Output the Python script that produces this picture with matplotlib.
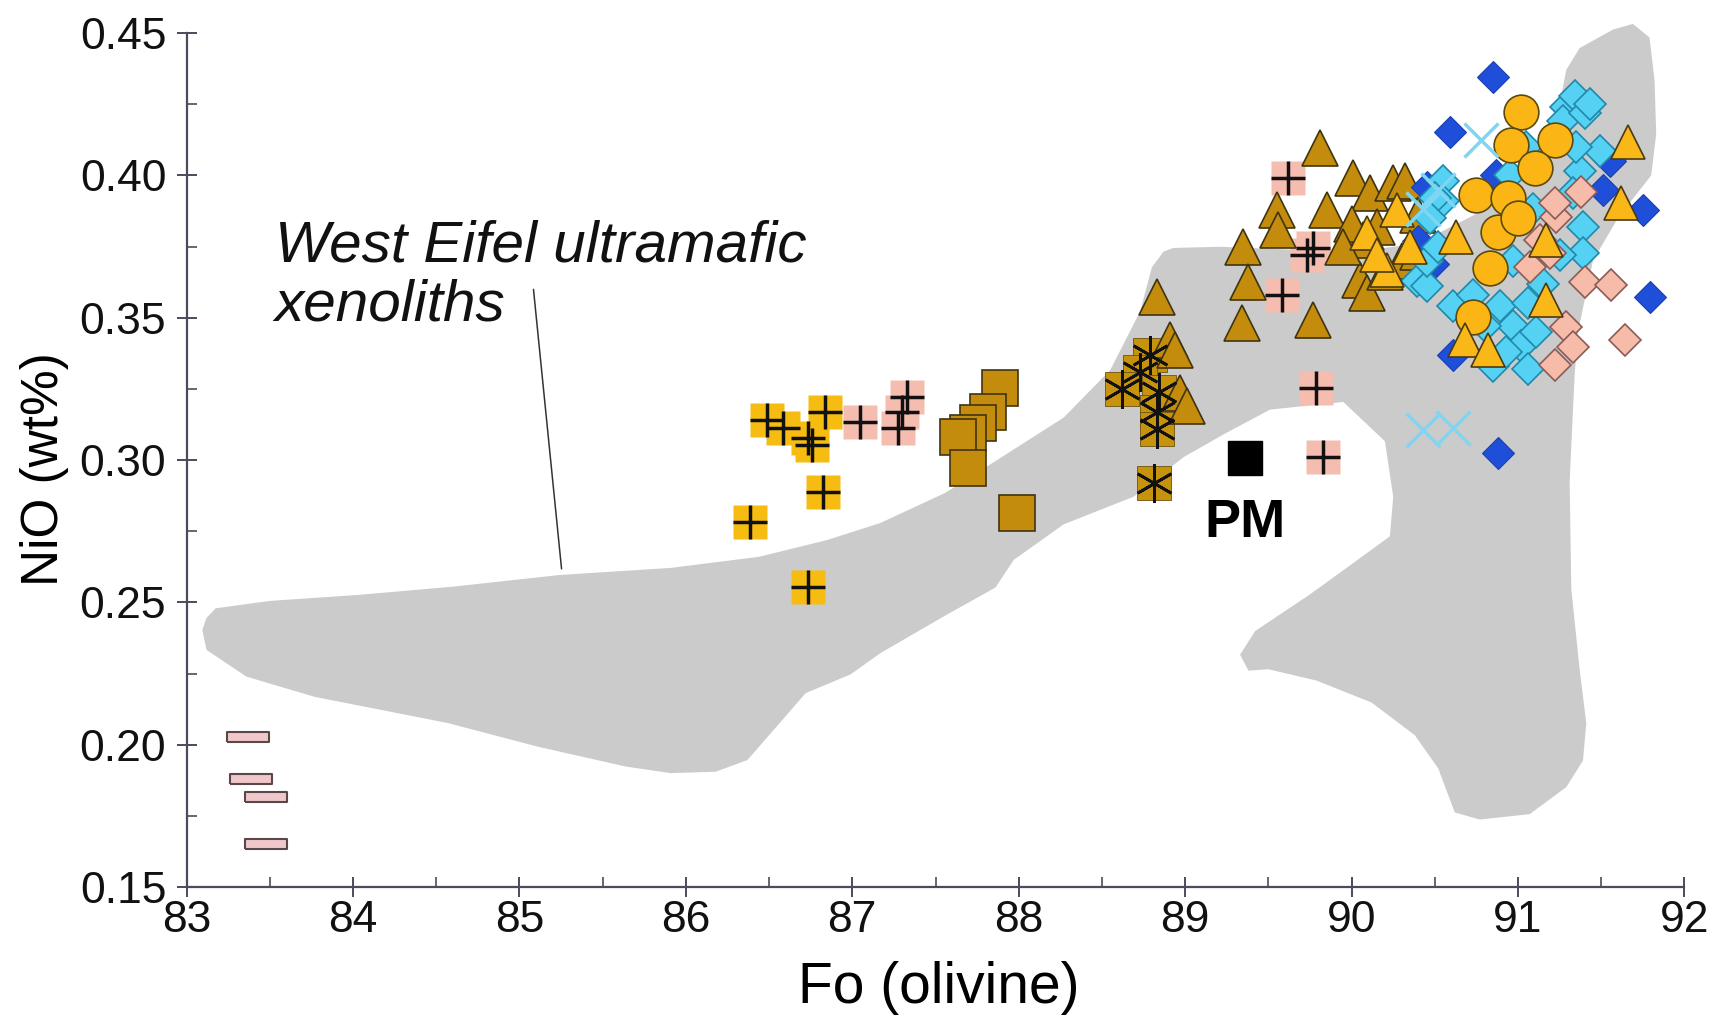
import numpy as np
import matplotlib
matplotlib.use('Agg')
import matplotlib.pyplot as plt
from matplotlib import font_manager
from matplotlib.ticker import MultipleLocator, FormatStrFormatter

# outline of the West Eifel xenolith field (Fo, NiO)
field_x = [83.095, 83.12, 83.175, 83.5, 84.03, 84.6, 85.24, 85.91, 86.44, 86.85, 87.17, 87.56, 87.90,
           88.27, 88.55, 88.73, 88.80, 88.87, 88.93, 89.21, 89.6, 90.0, 90.4, 90.8, 91.1, 91.25, 91.29,
           91.37, 91.57, 91.69, 91.79, 91.82, 91.83, 91.80, 91.6, 91.45, 91.36, 91.34, 91.31, 91.32,
           91.37, 91.41, 91.39, 91.29, 91.07, 90.77, 90.62, 90.52, 90.38, 90.12, 89.79, 89.5, 89.38,
           89.33, 89.42, 89.74, 89.97, 90.23, 90.25, 90.20, 89.95, 89.51, 89.24, 88.99, 88.69, 88.27,
           87.97, 87.86, 87.56, 87.17, 86.99, 86.72, 86.58, 86.37, 86.18, 85.91, 85.64, 85.11, 84.57,
           83.77, 83.36, 83.12]
field_y = [0.2403, 0.2445, 0.2479, 0.2505, 0.2526, 0.2555, 0.2596, 0.2621, 0.2660, 0.2719, 0.2779,
           0.2885, 0.3011, 0.3149, 0.3316, 0.3523, 0.3677, 0.3732, 0.3745, 0.3749, 0.3740, 0.3730,
           0.3760, 0.3880, 0.4050, 0.4250, 0.4371, 0.4447, 0.4512, 0.4532, 0.4484, 0.4335, 0.4145,
           0.4000, 0.3850, 0.3700, 0.3450, 0.3300, 0.2923, 0.2547, 0.2264, 0.2076, 0.1944, 0.1851,
           0.1756, 0.1737, 0.1762, 0.1917, 0.2033, 0.2148, 0.2225, 0.2265, 0.2260, 0.2316, 0.2399,
           0.2524, 0.2621, 0.2732, 0.2871, 0.3066, 0.3204, 0.3177, 0.3093, 0.3010, 0.2871, 0.2774,
           0.2649, 0.2552, 0.2454, 0.2322, 0.2247, 0.2181, 0.2087, 0.1946, 0.1905, 0.1900, 0.1923,
           0.1993, 0.2076, 0.2168, 0.2239, 0.2333]

# yellow squares with cross
ysq_x = [86.485, 86.585, 86.735, 86.756, 86.836, 86.825, 86.385, 86.735]
ysq_y = [0.3140, 0.3111, 0.3076, 0.3053, 0.3170, 0.2889, 0.2783, 0.2555]

# pink squares with cross
psq_x = [87.046, 87.276, 87.326, 87.296, 89.619, 89.769, 89.579, 89.789, 89.829, 89.73]
psq_y = [0.3135, 0.3111, 0.3222, 0.3170, 0.3990, 0.3743, 0.3580, 0.3252, 0.3012, 0.3720]

# brown squares
bsq_x = [87.887, 87.817, 87.757, 87.697, 87.636, 87.697, 87.987]
bsq_y = [0.3252, 0.3170, 0.3129, 0.3094, 0.3082, 0.2971, 0.2813]

# brown squares with asterisk
ast_x = [88.79, 88.73, 88.62, 88.84, 88.83, 88.83, 88.81]
ast_y = [0.3370, 0.3308, 0.3250, 0.3240, 0.3170, 0.3110, 0.2918]

# brown triangles
btri_x = [88.83, 88.91, 88.97, 88.94, 89.01, 89.81, 89.55, 89.56, 89.85, 90.01, 90.11, 90.25, 89.35,
          89.38, 89.34, 89.77, 90.05, 90.09, 90.07, 90.00, 90.20, 90.32, 90.40, 89.95, 90.15, 90.30,
          90.40]
btri_y = [0.3574, 0.3422, 0.3234, 0.3386, 0.3190, 0.4097, 0.3878, 0.3808, 0.3878, 0.3990, 0.3937,
          0.3972, 0.3749, 0.3626, 0.3480, 0.3492, 0.3632, 0.3586, 0.3773, 0.3830, 0.3660, 0.3980,
          0.3860, 0.3750, 0.3820, 0.3700, 0.3730]

# blue diamonds
bdia_x = [90.85, 90.59, 90.87, 91.51, 91.55, 91.75, 91.79, 90.61, 90.45, 90.49, 90.88, 90.40]
bdia_y = [0.4346, 0.4153, 0.4001, 0.3948, 0.4050, 0.3878, 0.3574, 0.3369, 0.3960, 0.3690, 0.3024,
          0.3770]

# cyan diamonds
cdia_x = [91.29, 91.27, 91.34, 91.40, 91.49, 91.37, 91.33, 91.39, 91.39, 91.09, 90.97, 90.61, 90.89,
          90.97, 91.02, 90.85, 90.39, 90.55, 90.55, 90.45, 90.50, 90.93, 91.06, 90.73, 90.80, 91.15,
          91.25, 90.95, 91.05, 90.45, 90.47, 90.52, 91.06, 91.11, 91.35, 91.43]
cdia_y = [0.4240, 0.4190, 0.4280, 0.4220, 0.4085, 0.4015, 0.3937, 0.3820, 0.3726, 0.3880, 0.3700,
          0.3540, 0.3540, 0.3470, 0.3400, 0.3330, 0.3630, 0.3980, 0.3910, 0.3610, 0.3920, 0.3380,
          0.3550, 0.3580, 0.3470, 0.3620, 0.3720, 0.4000, 0.4100, 0.3700, 0.3850, 0.3750, 0.3320,
          0.3450, 0.4100, 0.4250]

# orange circles
circ_x = [91.02, 90.96, 91.22, 91.10, 90.75, 90.94, 90.88, 90.83, 90.73, 91.00]
circ_y = [0.4224, 0.4107, 0.4124, 0.4025, 0.3931, 0.3919, 0.3802, 0.3673, 0.3503, 0.3850]

# pink diamonds
pdia_x = [91.38, 91.23, 91.22, 91.19, 91.07, 91.40, 91.56, 91.29, 91.33, 91.22, 91.64, 91.13]
pdia_y = [0.3942, 0.3855, 0.3902, 0.3726, 0.3679, 0.3626, 0.3615, 0.3468, 0.3398, 0.3334, 0.3421,
          0.3773]

# yellow triangles
ytri_x = [91.66, 91.62, 91.17, 90.68, 90.82, 90.63, 90.21, 90.09, 90.27, 91.17, 90.35, 90.15]
ytri_y = [0.4118, 0.3902, 0.3562, 0.3422, 0.3386, 0.3784, 0.3667, 0.3796, 0.3878, 0.3773, 0.3750,
          0.3720]

# light cyan crosses
cx_x = [90.78, 90.43, 90.61, 90.43, 90.52]
cx_y = [0.4124, 0.3105, 0.3111, 0.3880, 0.3950]

# pink bars at low Fo
bar_x = [83.37, 83.39, 83.48, 83.48]
bar_y = [0.2026, 0.1879, 0.1817, 0.1651]

pm_x, pm_y = 89.358, 0.3006
label_lines = ['West Eifel ultramafic', 'xenoliths']
label_x = 83.53
label_y = [0.3699, 0.3490]
leader_start = (85.083, 0.3609)
leader_end = (85.255, 0.2608)

names = {f.name for f in font_manager.fontManager.ttflist}
if 'Liberation Sans Narrow' in names:
    tick_font, tick_size = 'Liberation Sans Narrow', 37
else:
    tick_font, tick_size = 'Liberation Sans', 32
plt.rcParams['font.family'] = ['Liberation Sans', 'DejaVu Sans']

fig = plt.figure(figsize=(17.21, 10.18), dpi=100)
ax = fig.add_axes([0.10837, 0.12868, 0.87042, 0.83890])

ax.fill(field_x, field_y, color='#CBCBCB', lw=0, zorder=1, clip_on=False)

ax.annotate('', xy=leader_end, xytext=leader_start,
            arrowprops=dict(arrowstyle='-', color='#333333', lw=1.1), zorder=2)
for line, y in zip(label_lines, label_y):
    ax.text(label_x, y, line, fontsize=42, style='italic', va='baseline', ha='left', color='#111111')

bar_marker = [(-4, -1), (4, -1), (4, 1), (-4, 1), (-4, -1)]
ax.plot(bar_x, bar_y, ls='none', marker=bar_marker, ms=30, mfc='#F0C8CC', mec='#5a4848', mew=1.5, zorder=3)

ax.plot(ysq_x, ysq_y, ls='none', marker='s', ms=25, mfc='#F7BC12', mec='none', zorder=3)
ax.plot(ysq_x, ysq_y, ls='none', marker='+', ms=25, mec='#111111', mew=2.5, zorder=4)
ax.plot(psq_x, psq_y, ls='none', marker='s', ms=25, mfc='#F5BCB0', mec='none', zorder=3)
ax.plot(psq_x, psq_y, ls='none', marker='+', ms=25, mec='#111111', mew=2.5, zorder=4)

ax.plot(bsq_x, bsq_y, ls='none', marker='s', ms=26, mfc='#C38C0C', mec='#3f3410', mew=1.2, zorder=3)

ax.plot(ast_x, ast_y, ls='none', marker='s', ms=25, mfc='#C8930C', mec='#6b5210', mew=0.6, zorder=3)
ax.plot(btri_x, btri_y, ls='none', marker='^', ms=26, mfc='#C38C0C', mec='#3f3410', mew=1.2, zorder=3)
ax.plot(ast_x, ast_y, ls='none', marker=(6, 2, 0), ms=28, mec='#111111', mew=2.0, zorder=4)

ax.plot(bdia_x, bdia_y, ls='none', marker='D', ms=16, mfc='#1F4ED8', mec='#1a3fb0', mew=0.8, zorder=5)
ax.plot(cdia_x, cdia_y, ls='none', marker='D', ms=16, mfc='#55D2F3', mec='#2088a8', mew=1.2, zorder=5)
ax.plot(circ_x, circ_y, ls='none', marker='o', ms=25, mfc='#FBB514', mec='#5a4a10', mew=1.2, zorder=6)
ax.plot(pdia_x, pdia_y, ls='none', marker='D', ms=16, mfc='#F7BBA9', mec='#8a5c58', mew=1.2, zorder=7)
ax.plot(ytri_x, ytri_y, ls='none', marker='^', ms=24, mfc='#F9B818', mec='#4a3a10', mew=1.2, zorder=7)
ax.plot(cx_x, cx_y, ls='none', marker='x', ms=24, mec='#7FD6F2', mew=2.5, zorder=8)

ax.plot([pm_x], [pm_y], ls='none', marker='s', ms=24, mfc='black', mec='black', zorder=6)
ax.text(pm_x, pm_y - 0.014, 'PM', fontsize=39, fontweight='bold', ha='center', va='top')

ax.set_xlim(83, 92)
ax.set_ylim(0.15, 0.45)
ax.xaxis.set_major_locator(MultipleLocator(1))
ax.xaxis.set_minor_locator(MultipleLocator(0.5))
ax.yaxis.set_major_locator(MultipleLocator(0.05))
ax.yaxis.set_minor_locator(MultipleLocator(0.025))
ax.yaxis.set_major_formatter(FormatStrFormatter('%.2f'))

for side in ['top', 'right']:
    ax.spines[side].set_visible(False)
for side in ['left', 'bottom']:
    ax.spines[side].set_color('#4b4b5e')
    ax.spines[side].set_linewidth(1.6)

ax.tick_params(which='major', direction='inout', length=15, width=1.4, color='#4b4b5e',
               labelsize=tick_size, labelfontfamily=tick_font, labelcolor='#111111')
ax.tick_params(axis='y', which='major', pad=7)
ax.tick_params(axis='x', which='major', pad=2)
ax.tick_params(which='minor', direction='in', length=7, width=1.2, color='#4b4b5e')

ax.set_xlabel('Fo (olivine)', fontsize=41, va='center')
ax.xaxis.set_label_coords(0.502, -0.118)
ax.set_ylabel('NiO (wt%)', fontsize=37, va='center')
ax.yaxis.set_label_coords(-0.0945, 0.489)

fig.savefig('out.png', dpi=100)
